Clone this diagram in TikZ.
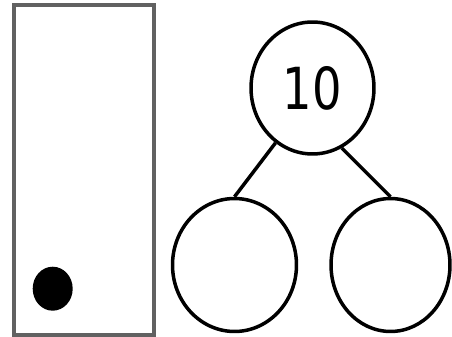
\documentclass[tikz,border=0pt]{standalone}
\usepackage{fontspec}
\newfontfamily\numfont{DejaVu Sans}
\usepackage{tikz}
\usetikzlibrary{shapes.geometric}

\begin{document}
\begin{tikzpicture}[x=0.02cm,y=-0.02cm,
  bubble/.style={draw,ellipse,line width=0.07cm,inner sep=0pt},
  frameline/.style={draw=black!62,line width=0.08cm}]
  \useasboundingbox (0,0) rectangle (452,337);
  \draw[frameline] (14,5) rectangle (154,335);
  \fill (52.7,288.7) ellipse [x radius=20, y radius=22];
  \node[bubble,minimum width=2.46cm,minimum height=2.64cm] (whole) at (312.5,88)
    {\numfont\fontsize{33}{33}\selectfont\scalebox{0.8}[1]{10}};
  \node[bubble,minimum width=2.48cm,minimum height=2.66cm] (partL) at (234.5,265) {};
  \node[bubble,minimum width=2.38cm,minimum height=2.66cm] (partR) at (390.5,265) {};
  \draw[line width=0.07cm] (whole.-124) -- (partL.north);
  \draw[line width=0.07cm] (whole.-64) -- (partR.north);
\end{tikzpicture}
\end{document}
